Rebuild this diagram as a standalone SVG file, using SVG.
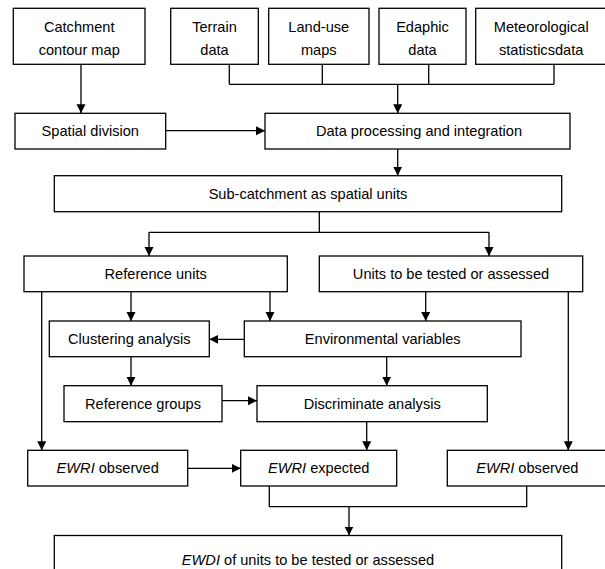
<svg xmlns="http://www.w3.org/2000/svg" width="605" height="569" viewBox="0 0 605 569">
<style>
.n rect{fill:#fff;stroke:#000;stroke-width:1.3}
text{font-family:"Liberation Sans",Arial,sans-serif;font-size:14.6px;fill:#000;text-anchor:middle}
.i{font-style:italic}
#connectors path{fill:none;stroke:#000;stroke-width:1.3}
</style>
<defs>
<marker id="ah" markerUnits="userSpaceOnUse" markerWidth="9" markerHeight="10" refX="9" refY="4.5" orient="auto">
<path d="M0,0 L9,4.5 L0,9 z" fill="#000"/>
</marker>
</defs>
<rect width="605" height="569" fill="#fff"/>
<g id="connectors">
<path d="M81,64.3 V113.3" marker-end="url(#ah)"/>
<path d="M229.3,64.3 V84.3 M322.3,64.3 V84.3 M428.7,64.3 V84.3 M554,64.3 V84.3 M229.3,84.3 H554"/>
<path d="M397.7,84.3 V113.3" marker-end="url(#ah)"/>
<path d="M165.7,130.7 H265" marker-end="url(#ah)"/>
<path d="M397.7,149 V175.7" marker-end="url(#ah)"/>
<path d="M319.3,211.7 V232.3 M149,232.3 H489"/>
<path d="M149,232.3 V256" marker-end="url(#ah)"/>
<path d="M489,232.3 V256" marker-end="url(#ah)"/>
<path d="M131,291.7 V321" marker-end="url(#ah)"/>
<path d="M270,291.7 V321" marker-end="url(#ah)"/>
<path d="M425.7,291.7 V321" marker-end="url(#ah)"/>
<path d="M244.3,339.3 H209.3" marker-end="url(#ah)"/>
<path d="M41.7,291.7 V450.3" marker-end="url(#ah)"/>
<path d="M568.3,291.7 V450.3" marker-end="url(#ah)"/>
<path d="M131,356.7 V385.7" marker-end="url(#ah)"/>
<path d="M222,400.7 H257" marker-end="url(#ah)"/>
<path d="M386.7,356.7 V385.7" marker-end="url(#ah)"/>
<path d="M366.7,421.7 V450.3" marker-end="url(#ah)"/>
<path d="M187.7,468.3 H240.7" marker-end="url(#ah)"/>
<path d="M269.3,486 V506.7 H526.7 V486"/>
<path d="M349,506.7 V535.5" marker-end="url(#ah)"/>
</g>
<g id="catchment" class="n"><rect x="13.3" y="8.3" width="131.7" height="56"/><text x="79.2" y="31.5">Catchment</text><text x="79.2" y="54.5">contour map</text></g>
<g id="terrain" class="n"><rect x="170.7" y="8.3" width="87.6" height="56"/><text x="214.5" y="31.5">Terrain</text><text x="214.5" y="54.5">data</text></g>
<g id="landuse" class="n"><rect x="268.7" y="8.3" width="100.3" height="56"/><text x="318.8" y="31.5">Land-use</text><text x="318.8" y="54.5">maps</text></g>
<g id="edaphic" class="n"><rect x="379" y="8.3" width="87" height="56"/><text x="422.5" y="31.5">Edaphic</text><text x="422.5" y="54.5">data</text></g>
<g id="meteo" class="n"><rect x="475.7" y="8.3" width="131" height="56"/><text x="541.2" y="31.5">Meteorological</text><text x="541.2" y="54.5">statisticsdata</text></g>
<g id="spatial" class="n"><rect x="15" y="113.3" width="150.7" height="35.7"/><text x="90.3" y="136.3">Spatial division</text></g>
<g id="dataproc" class="n"><rect x="265" y="113.3" width="305" height="35.7"/><text x="419" y="136.3">Data processing and integration</text></g>
<g id="subcatch" class="n"><rect x="54.3" y="175.7" width="507.4" height="36"/><text x="308" y="198.8">Sub-catchment as spatial units</text></g>
<g id="refunits" class="n"><rect x="24" y="256" width="263.3" height="35.7"/><text x="155.7" y="279">Reference units</text></g>
<g id="tested" class="n"><rect x="319.3" y="256" width="263.4" height="35.7"/><text x="451" y="279">Units to be tested or assessed</text></g>
<g id="clustering" class="n"><rect x="49.3" y="321" width="160" height="35.7"/><text x="129.3" y="344">Clustering analysis</text></g>
<g id="env" class="n"><rect x="244.3" y="321" width="276.7" height="35.7"/><text x="382.7" y="344">Environmental variables</text></g>
<g id="refgroups" class="n"><rect x="64" y="385.7" width="158" height="36"/><text x="143" y="408.8">Reference groups</text></g>
<g id="discrim" class="n"><rect x="257" y="385.7" width="230.3" height="36"/><text x="372.2" y="408.8">Discriminate analysis</text></g>
<g id="ewriobsL" class="n"><rect x="27.7" y="450.3" width="160" height="35.7"/><text x="107.7" y="473.2"><tspan class="i">EWRI</tspan> observed</text></g>
<g id="ewriexp" class="n"><rect x="240.7" y="450.3" width="156" height="35.7"/><text x="318.7" y="473.2"><tspan class="i">EWRI</tspan> expected</text></g>
<g id="ewriobsR" class="n"><rect x="447.3" y="450.3" width="160" height="35.7"/><text x="527.3" y="473.2"><tspan class="i">EWRI</tspan> observed</text></g>
<g id="ewdi" class="n"><rect x="54.3" y="535.5" width="507.4" height="50"/><text x="308" y="565"><tspan class="i">EWDI</tspan> of units to be tested or assessed</text></g>
</svg>
